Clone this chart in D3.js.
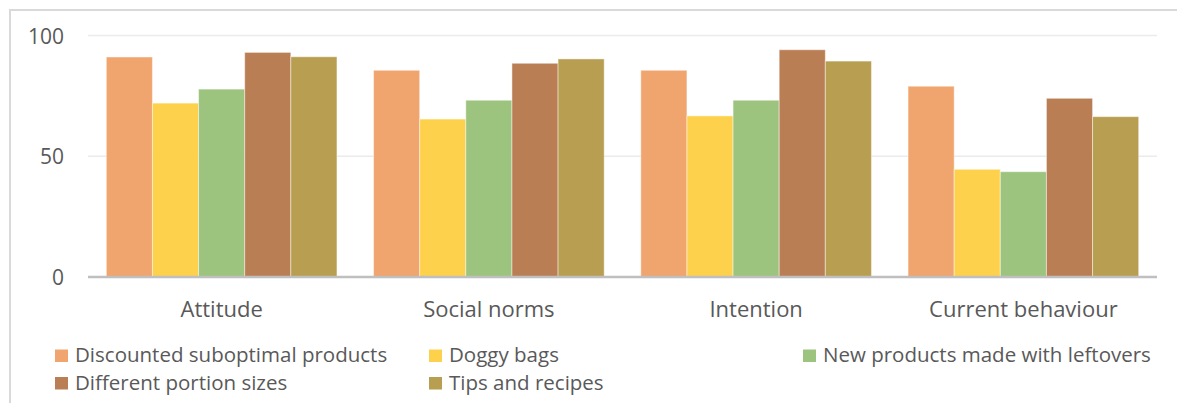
<!DOCTYPE html>
<html>
<head>
<meta charset="utf-8">
<script src="https://cdn.jsdelivr.net/npm/d3@7"></script>
<style>
  html, body { margin: 0; padding: 0; background: #ffffff; }
  svg { display: block; }
  text { font-family: "Open Sans", "Noto Sans", sans-serif; fill: #595959; }
</style>
</head>
<body>
<svg id="chart" width="1177" height="403"></svg>
<script>
// Measures of acceptance for food-waste initiatives
const categories = ["Attitude", "Social norms", "Intention", "Current behaviour"];
const seriesNames = [
  "Discounted suboptimal products",
  "Doggy bags",
  "New products made with leftovers",
  "Different portion sizes",
  "Tips and recipes"
];
const discounted = [91.1, 85.6, 85.6, 79.0];
const doggyBags = [72.0, 65.4, 66.7, 44.6];
const newProducts = [77.8, 73.2, 73.2, 43.6];
const portionSizes = [93.0, 88.5, 94.1, 74.0];
const tipsRecipes = [91.2, 90.3, 89.4, 66.4];
const yTicks = [0, 50, 100];
const colors = ["#F0A56F", "#FED14C", "#9DC47F", "#BA7E55", "#B89E51"];

const seriesValues = [discounted, doggyBags, newProducts, portionSizes, tipsRecipes];

const svg = d3.select("#chart");

// Outer chart frame
svg.append("rect")
  .attr("x", 10).attr("y", 10)
  .attr("width", 1300).attr("height", 600)
  .attr("fill", "none")
  .attr("stroke", "#d9d9d9")
  .attr("stroke-width", 2);

const plot = { left: 88, right: 1157, top: 35.5, bottom: 277 };

const x0 = d3.scaleBand()
  .domain(categories)
  .range([plot.left, plot.right])
  .paddingInner(0.137)
  .paddingOuter(0.0685);

const x1 = d3.scaleBand()
  .domain(d3.range(seriesNames.length))
  .range([0, x0.bandwidth()]);

const y = d3.scaleLinear().domain([0, 100]).range([plot.bottom, plot.top]);

// Horizontal gridlines
svg.append("g")
  .selectAll("line")
  .data(yTicks.filter(t => t !== 0))
  .join("line")
  .attr("x1", plot.left).attr("x2", plot.right)
  .attr("y1", d => y(d)).attr("y2", d => y(d))
  .attr("stroke", "#ebebeb")
  .attr("stroke-width", 1.5);

// Y tick labels
const yAxis = d3.axisLeft(y).tickValues(yTicks).tickSize(0).tickPadding(0);
const yg = svg.append("g")
  .attr("transform", `translate(64,0)`)
  .call(yAxis);
yg.select(".domain").remove();
yg.selectAll("text")
  .style("font-size", "21px")
  .attr("fill", "#595959")
  .attr("dy", "0.36em");

// Bars
const groups = svg.append("g")
  .selectAll("g")
  .data(categories)
  .join("g")
  .attr("transform", d => `translate(${x0(d)},0)`);

groups.selectAll("rect")
  .data((c, ci) => seriesValues.map((vals, si) => ({ si, v: vals[ci] })))
  .join("rect")
  .attr("x", d => x1(d.si))
  .attr("width", x1.bandwidth())
  .attr("y", d => y(d.v))
  .attr("height", d => y(0) - y(d.v))
  .attr("fill", d => colors[d.si])
  .attr("stroke", "rgba(255,255,255,0.45)")
  .attr("stroke-width", 1);

// Category axis
const xAxis = d3.axisBottom(x0).tickSize(0).tickPadding(0);
const xg = svg.append("g")
  .attr("transform", `translate(0,${plot.bottom})`)
  .call(xAxis);
xg.select(".domain").remove();
xg.selectAll("text")
  .style("font-size", "22px")
  .attr("fill", "#595959")
  .attr("y", 39.5)
  .attr("dy", 0);

svg.append("line")
  .attr("x1", plot.left).attr("x2", plot.right)
  .attr("y1", y(0)).attr("y2", y(0))
  .attr("stroke", "#bfbfbf")
  .attr("stroke-width", 2.5);

// Legend: three columns, two rows
const legendCols = [55, 429, 803];
const legendRows = [362, 389.5];
const legend = svg.append("g")
  .selectAll("g")
  .data(seriesNames)
  .join("g")
  .attr("transform", (d, i) => `translate(${legendCols[i % 3]},${legendRows[Math.floor(i / 3)]})`);

legend.append("rect")
  .attr("x", 0).attr("y", -12.5)
  .attr("width", 13).attr("height", 12.5)
  .attr("fill", (d, i) => colors[i]);

legend.append("text")
  .attr("x", 20).attr("y", 0)
  .style("font-size", "20.5px")
  .text(d => d);
</script>
</body>
</html>
